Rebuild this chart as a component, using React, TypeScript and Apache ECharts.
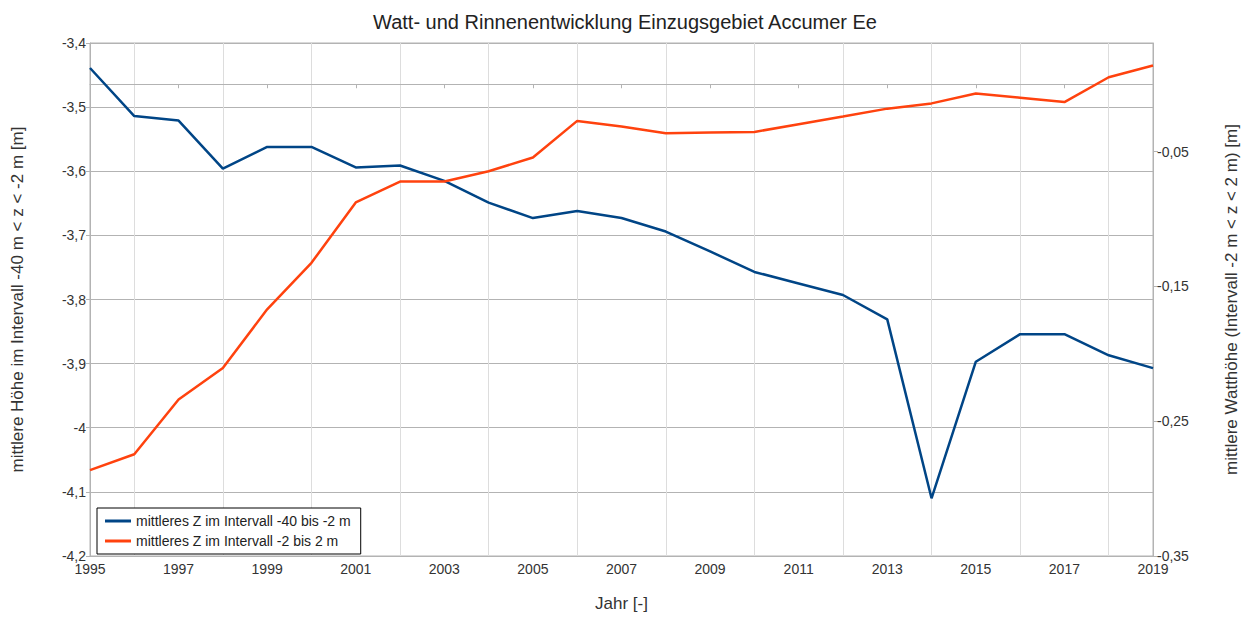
import React, { useEffect, useRef } from "react";
import * as echarts from "echarts";

const years = [1995, 1996, 1997, 1998, 1999, 2000, 2001, 2002, 2003, 2004, 2005, 2006, 2007, 2008, 2009, 2010, 2011, 2012, 2013, 2014, 2015, 2016, 2017, 2018, 2019];
const deepValues = [-3.439, -3.514, -3.521, -3.596, -3.562, -3.562, -3.594, -3.591, -3.615, -3.649, -3.673, -3.662, -3.673, -3.694, -3.725, -3.757, -3.775, -3.793, -3.831, -4.11, -3.897, -3.854, -3.854, -3.887, -3.907];
const wattValues = [-0.2863, -0.2745, -0.2339, -0.2105, -0.167, -0.1325, -0.0877, -0.0722, -0.0722, -0.0646, -0.0543, -0.0272, -0.0314, -0.0363, -0.0358, -0.0354, -0.0297, -0.024, -0.0181, -0.0142, -0.0068, -0.01, -0.0132, 0.0052, 0.0139];
const rightTicks = [-0.35, -0.25, -0.15, -0.05];
const seriesNames = ["mittleres Z im Intervall -40 bis -2 m", "mittleres Z im Intervall -2 bis 2 m"];

const FONT = "Liberation Sans, Arial, sans-serif";
const fmt = (v: number) => String(+Number(v).toFixed(3)).replace(".", ",");

export default function App() {
  const ref = useRef<HTMLDivElement>(null);
  useEffect(() => {
    if (!ref.current) return;
    const chart = echarts.init(ref.current, null, { renderer: "svg" });
    const labelStyle = { color: "#333", fontSize: 14, fontFamily: FONT };
    const nameStyle = { color: "#333", fontSize: 17, fontFamily: FONT };
    chart.setOption({
      animation: false,
      backgroundColor: "#fff",
      textStyle: { fontFamily: FONT },
      title: {
        text: "Watt- und Rinnenentwicklung Einzugsgebiet Accumer Ee",
        left: "center",
        top: 7,
        textStyle: { fontSize: 20, fontWeight: "normal", color: "#222", fontFamily: FONT },
      },
      grid: { left: 90, right: 97, top: 43, bottom: 58, show: true, borderColor: "#b3b3b3", borderWidth: 1, backgroundColor: "transparent" },
      legend: {
        orient: "vertical",
        left: 97,
        top: 508,
        padding: [6, 10, 6, 8],
        itemGap: 6,
        itemWidth: 26,
        itemHeight: 3,
        icon: "rect",
        borderColor: "#000",
        borderWidth: 1,
        backgroundColor: "#fff",
        textStyle: { color: "#222", fontSize: 14, fontFamily: FONT },
        data: seriesNames,
      },
      xAxis: {
        type: "value",
        min: 1995,
        max: 2019,
        interval: 2,
        name: "Jahr [-]",
        nameLocation: "middle",
        nameGap: 39,
        nameTextStyle: nameStyle,
        axisLine: { show: true, lineStyle: { color: "#b3b3b3", width: 1 } },
        axisTick: { show: true, length: 4, lineStyle: { color: "#b3b3b3" } },
        axisLabel: { ...labelStyle, margin: 6, formatter: (v: number) => String(v) },
        splitLine: { show: false },
        minorTick: { show: false, splitNumber: 2 },
        minorSplitLine: { show: true, lineStyle: { color: "#dddddd", width: 1 } },
      },
      yAxis: [
        {
          type: "value",
          min: -4.2,
          max: -3.4,
          interval: 0.1,
          name: "mittlere Höhe im Intervall -40 m < z < -2 m [m]",
          nameLocation: "middle",
          nameGap: 64,
          nameTextStyle: nameStyle,
          axisLine: { show: true, lineStyle: { color: "#b3b3b3", width: 1 } },
          axisTick: { show: true, length: 4, lineStyle: { color: "#b3b3b3" } },
          axisLabel: { ...labelStyle, margin: 4, formatter: fmt },
          splitLine: { show: true, lineStyle: { color: "#b3b3b3", width: 1 } },
        },
        {
          type: "value",
          min: -0.35,
          max: 0.0306,
          position: "right",
          name: "mittlere Watthöhe (Intervall -2 m < z < 2 m) [m]",
          nameLocation: "middle",
          nameGap: 70,
          nameTextStyle: nameStyle,
          axisLine: { show: true, lineStyle: { color: "#b3b3b3", width: 1 } },
          axisTick: { show: true, length: 5, customValues: rightTicks, lineStyle: { color: "#b3b3b3" } },
          axisLabel: { ...labelStyle, margin: 4, customValues: rightTicks, formatter: fmt },
          splitLine: { show: false },
        },
      ],
      series: [
        {
          name: seriesNames[0],
          type: "line",
          yAxisIndex: 0,
          symbol: "none",
          lineStyle: { color: "#004586", width: 2.5 },
          itemStyle: { color: "#004586" },
          data: years.map((y, i) => [y, deepValues[i]]),
        },
        {
          name: seriesNames[1],
          type: "line",
          yAxisIndex: 1,
          symbol: "none",
          lineStyle: { color: "#ff420e", width: 2.5 },
          itemStyle: { color: "#ff420e" },
          data: years.map((y, i) => [y, wattValues[i]]),
        },
      ],
    });
    return () => chart.dispose();
  }, []);
  return <div ref={ref} style={{ width: 1250, height: 617, position: "absolute", left: 0, top: 0 }} />;
}
